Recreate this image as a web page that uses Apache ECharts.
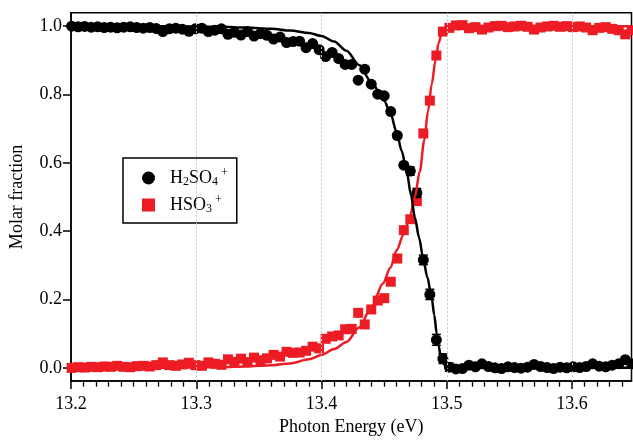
<!DOCTYPE html>
<html><head><meta charset="utf-8">
<script src="https://cdn.jsdelivr.net/npm/echarts@6/dist/echarts.min.js"></script>
<style>html,body{margin:0;padding:0;background:#fff}#c{width:633px;height:441px}</style>
</head><body><div id="c"></div>
<script>
const energy = [13.2005,13.2057,13.2109,13.2161,13.2213,13.2265,13.2317,13.2369,13.2421,13.2473,
13.2525,13.2577,13.2629,13.2681,13.2733,13.2785,13.2837,13.2889,13.2941,13.2993,
13.3045,13.3097,13.3149,13.3201,13.3253,13.3305,13.3357,13.3409,13.3461,13.3513,
13.3565,13.3617,13.3669,13.3721,13.3773,13.3825,13.3877,13.3929,13.3981,13.4033,
13.4085,13.4137,13.4189,13.4241,13.4293,13.4345,13.4397,13.4449,13.4501,13.4553,
13.4605,13.4657,13.4709,13.4761,13.4813,13.4865,13.4917,13.4969,13.5021,13.5073,
13.5125,13.5177,13.5229,13.5281,13.5333,13.5385,13.5437,13.5489,13.5541,13.5593,
13.5645,13.5697,13.5749,13.5801,13.5853,13.5905,13.5957,13.6009,13.6061,13.6113,
13.6165,13.6217,13.6269,13.6321,13.6373,13.6425,13.6477];
const h2so4 = [1.000,0.998,0.999,0.997,0.998,0.996,0.997,0.995,0.997,0.998,0.996,0.994,0.996,0.993,
0.984,0.992,0.994,0.991,0.985,0.992,0.994,0.984,0.988,0.992,0.976,0.982,0.974,0.984,
0.971,0.978,0.973,0.962,0.968,0.952,0.955,0.956,0.937,0.949,0.931,0.911,0.923,0.905,
0.888,0.888,0.842,0.874,0.830,0.801,0.796,0.750,0.680,0.593,0.576,0.512,0.316,0.215,0.082,0.027,
0.002,-0.003,-0.002,0.008,0.003,0.012,0.004,0.000,-0.002,0.003,0.001,-0.001,0.002,0.010,0.004,
0.001,-0.002,0.002,0.000,0.003,0.001,0.004,0.012,0.005,0.003,0.008,0.012,0.024,0.012];
const hso3 = [0.000,0.002,0.001,0.003,0.002,0.004,0.003,0.006,0.003,0.002,0.005,0.006,0.004,0.008,
0.016,0.008,0.006,0.010,0.015,0.008,0.006,0.016,0.012,0.009,0.025,0.018,0.027,0.017,
0.030,0.022,0.028,0.038,0.033,0.047,0.044,0.045,0.050,0.062,0.057,0.085,0.092,0.095,
0.113,0.114,0.161,0.127,0.171,0.197,0.204,0.252,0.320,0.403,0.435,0.488,0.686,0.782,0.914,0.984,
0.995,1.002,1.003,0.994,0.997,0.990,0.996,1.000,1.001,0.997,0.999,1.001,0.998,0.990,0.996,
0.999,1.001,0.998,1.000,0.997,0.999,0.996,0.988,0.995,0.997,0.992,0.988,0.976,0.988];
const h2so4ErrIdx = [52,53,54,55,56,57,58];
const h2so4Err = [0.012,0.013,0.014,0.015,0.016,0.014,0.012];
const fitBlackX = [13.20,13.25,13.30,13.32,13.34,13.36,13.375,13.39,13.40,13.41,13.42,13.43,13.44,13.45,13.455,13.46,13.464,13.468,13.4715,13.4745,13.478,13.481,13.4845,13.488,13.490,13.492,13.4935,13.495,13.497,13.499,13.502,13.52,13.6475];
const fitBlackY = [1.000,1.000,0.999,0.998,0.996,0.992,0.987,0.980,0.971,0.955,0.928,0.886,0.835,0.782,0.745,0.690,0.635,0.575,0.505,0.440,0.380,0.324,0.265,0.205,0.155,0.100,0.065,0.038,0.015,0.005,0.000,0.000,0.000];
const fitRedX = [13.20,13.25,13.30,13.32,13.34,13.36,13.375,13.39,13.40,13.41,13.42,13.43,13.44,13.449,13.455,13.46,13.4655,13.4705,13.4745,13.4785,13.482,13.485,13.488,13.491,13.4935,13.496,13.499,13.503,13.6475];
const fitRedY = [0.000,0.000,0.001,0.002,0.004,0.008,0.013,0.025,0.038,0.055,0.076,0.118,0.178,0.247,0.293,0.344,0.390,0.440,0.500,0.575,0.665,0.750,0.830,0.900,0.950,0.980,0.995,1.000,1.000];
const xTicks = [13.2,13.3,13.4,13.5,13.6];
const xGridLines = [13.3,13.4,13.5,13.6];
const yTicks = [0,0.2,0.4,0.6,0.8,1.0];
const Y_MIN = -0.0387, Y_MAX = 1.0393;

const RED = '#ed1c24';
const FONT = 'Liberation Serif';
const chart = echarts.init(document.getElementById('c'));
const zip = (xs, ys) => xs.map((x,i)=>[x, ys[i]]);
chart.setOption({
  animation:false,
  backgroundColor:'#fff',
  grid:{left:71, right:1.5, top:12.7, bottom:55.3, show:true, borderColor:'#000', borderWidth:1.5, backgroundColor:'transparent'},
  xAxis:{
    type:'value', min:13.2, max:13.6475, interval:0.1, position:'bottom',
    name:'Photon Energy (eV)', nameLocation:'middle', nameGap:36,
    nameTextStyle:{fontFamily:FONT, fontSize:18, color:'#000'},
    axisLine:{show:true, onZero:false, lineStyle:{color:'#000', width:1.5}},
    axisTick:{show:true, inside:false, length:8, lineStyle:{color:'#000', width:1.5}, customValues:xTicks},
    minorTick:{show:true, splitNumber:10, length:5.5, lineStyle:{color:'#000', width:1.3}},
    axisLabel:{show:true, margin:14, fontFamily:FONT, fontSize:18, color:'#000', customValues:xTicks, formatter:v=>Number(v).toFixed(1)},
    splitLine:{show:false},
    minorSplitLine:{show:false}
  },
  yAxis:{
    type:'value', min:Y_MIN, max:Y_MAX,
    name:'Molar fraction', nameLocation:'middle', nameGap:45,
    nameTextStyle:{fontFamily:FONT, fontSize:18, color:'#000'},
    axisLine:{show:true, onZero:false, lineStyle:{color:'#000', width:1.5}},
    axisTick:{show:true, inside:false, length:8, lineStyle:{color:'#000', width:1.5}, customValues:yTicks},
    axisLabel:{show:true, margin:9, fontFamily:FONT, fontSize:18, color:'#000', customValues:yTicks, formatter:v=>Number(v).toFixed(1)},
    splitLine:{show:false}
  },
  legend:{
    data:['H2SO4+','HSO3+'],
    orient:'vertical', left:123, top:158,
    borderColor:'#000', borderWidth:1.5, padding:[9,9,8,19],
    itemWidth:13, itemHeight:13, itemGap:6, selectedMode:false,
    itemStyle:{opacity:1},
    formatter: n => n === 'H2SO4+' ? '{g|}{m|H}{s|2}{m|SO}{s|4}{p|+}' : '{g|}{m|HSO}{s|3}{p|+}',
    textStyle:{fontFamily:FONT, fontSize:18, color:'#000',
      rich:{
        g:{width:10},
        m:{fontFamily:FONT, fontSize:18, color:'#000'},
        s:{fontFamily:FONT, fontSize:12, color:'#000', padding:[8,0,0,0]},
        p:{fontFamily:FONT, fontSize:12, color:'#000', padding:[0,0,10,3]}
      }}
  },
  series:[
    {type:'line', data:[], z:1, silent:true,
     markLine:{silent:true, symbol:'none', label:{show:false}, animation:false,
       lineStyle:{color:'#c8c8c8', type:[2,2], width:1},
       data: xGridLines.map(v=>({xAxis:v}))}},
    {name:'HSO3+', type:'scatter', symbol:'rect', symbolSize:10, clip:false, z:2,
     itemStyle:{color:RED, opacity:1}, data: zip(energy, hso3)},
    {name:'H2SO4+', type:'scatter', symbol:'circle', symbolSize:11, clip:false, z:3,
     itemStyle:{color:'#000', opacity:1}, data: zip(energy, h2so4)},
    {type:'custom', z:3, silent:true,
     data: h2so4ErrIdx.map((idx,i)=>[energy[idx], h2so4[idx], h2so4Err[i]]),
     encode:{x:0, y:1},
     renderItem:(params, api)=>{
       const x=api.value(0), y=api.value(1), e=api.value(2);
       const t=api.coord([x,y+e]), b=api.coord([x,y-e]);
       const w=4.5, st={stroke:'#000', lineWidth:1.5};
       return {type:'group', children:[
         {type:'line', shape:{x1:t[0],y1:t[1],x2:b[0],y2:b[1]}, style:st},
         {type:'line', shape:{x1:t[0]-w,y1:t[1],x2:t[0]+w,y2:t[1]}, style:st},
         {type:'line', shape:{x1:b[0]-w,y1:b[1],x2:b[0]+w,y2:b[1]}, style:st}
       ]};
     }},
    {name:'HSO3+ fit', type:'line', showSymbol:false, smooth:0.3, smoothMonotone:'x', z:4, silent:true,
     lineStyle:{color:RED, width:2.5}, data: zip(fitRedX, fitRedY)},
    {name:'H2SO4+ fit', type:'line', showSymbol:false, smooth:0.3, smoothMonotone:'x', z:5, silent:true,
     lineStyle:{color:'#000', width:2.5}, data: zip(fitBlackX, fitBlackY)}
  ]
});
</script></body></html>
